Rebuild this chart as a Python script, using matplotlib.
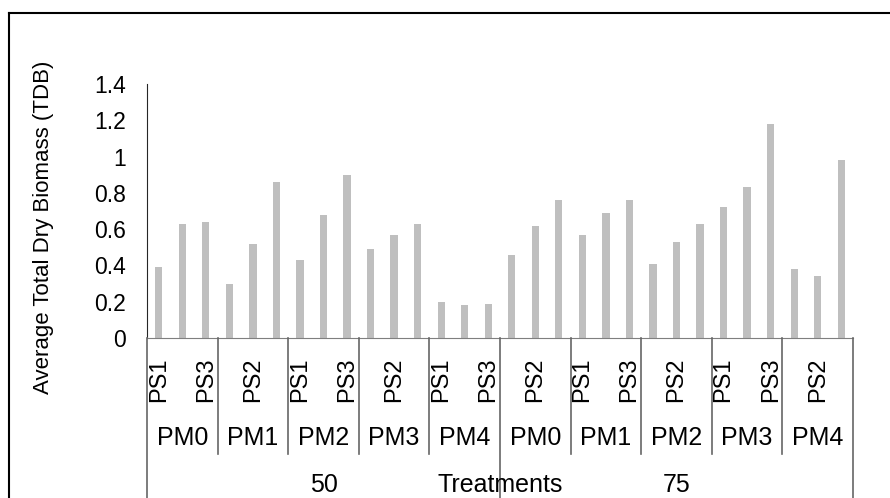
import matplotlib
matplotlib.use('Agg')
import matplotlib.pyplot as plt
from matplotlib.lines import Line2D
from matplotlib.transforms import blended_transform_factory

plt.rcParams['font.family'] = ['Liberation Sans', 'DejaVu Sans']

# Treatment levels: rate -> manure -> spacing
rates = ['50', '75']
manures = ['PM0', 'PM1', 'PM2', 'PM3', 'PM4']
spacings = ['PS1', 'PS2', 'PS3']

# Average total dry biomass, in the order rate / manure / spacing
tdb_50 = [0.39, 0.63, 0.64,
          0.30, 0.52, 0.86,
          0.43, 0.68, 0.90,
          0.49, 0.57, 0.63,
          0.20, 0.18, 0.19]
tdb_75 = [0.46, 0.62, 0.76,
          0.57, 0.69, 0.76,
          0.41, 0.53, 0.63,
          0.72, 0.83, 1.18,
          0.38, 0.34, 0.98]

yticks = [0, 0.2, 0.4, 0.6, 0.8, 1.0, 1.2, 1.4]
ytick_labels = ['0', '0.2', '0.4', '0.6', '0.8', '1', '1.2', '1.4']

W, H = 890, 498


def fy(py):
    # pixel row measured from the top -> figure fraction
    return 1 - py / H


values = tdb_50 + tdb_75
n_sub = len(spacings)
n_grp = len(manures) * n_sub

fig = plt.figure(figsize=(W / 100, H / 100), dpi=100)
ax = fig.add_axes([147 / W, fy(338), (853 - 147) / W, (338 - 84) / H])

ax.bar(range(len(values)), values, width=0.31, color='#bfbfbf')
ax.set_xlim(-0.5, len(values) - 0.5)
ax.set_ylim(0, 1.4)
ax.set_yticks(yticks)
ax.set_yticklabels(ytick_labels)
ax.set_xticks([])
ax.tick_params(axis='y', length=0, pad=15, labelsize=16.5)
for side in ['top', 'right']:
    ax.spines[side].set_visible(False)
ax.spines['left'].set_color('#262626')
ax.spines['bottom'].set_color('#7f7f7f')

fig.text(44 / W, fy(227), 'Average Total Dry Biomass (TDB)', rotation=90,
         ha='center', va='center', fontsize=16)

# multi-level category axis below the plot
trans = blended_transform_factory(ax.transData, fig.transFigure)
line_col = '#666666'

for i in range(len(values)):
    if i % 2 == 0:
        fig.text(i, fy(402), spacings[i % n_sub], rotation=90, ha='center',
                 va='bottom', fontsize=17, transform=trans)

for j in range(len(rates) * len(manures)):
    fig.text(j * n_sub + (n_sub - 1) / 2, fy(438), manures[j % len(manures)],
             ha='center', va='center', fontsize=18, transform=trans)

for j in range(len(rates) * len(manures) + 1):
    xb = j * n_sub - 0.5
    y_end = 0 if j % len(manures) == 0 else fy(454)
    fig.add_artist(Line2D([xb, xb], [fy(338), y_end], color=line_col,
                          lw=1.2, transform=trans))

for g, rate in enumerate(rates):
    fig.text(g * n_grp + (n_grp - 1) / 2, fy(485), rate, ha='center',
             va='center', fontsize=18, transform=trans)

fig.text(n_grp - 0.5, fy(485), 'Treatments', ha='center', va='center',
         fontsize=18, transform=trans)

# chart frame
fig.add_artist(Line2D([9 / W, 9 / W], [0, fy(13.5)], color='black', lw=1.5))
fig.add_artist(Line2D([9 / W, 1], [fy(13.5), fy(13.5)], color='black', lw=1.5))

fig.savefig('out.png', dpi=100)
